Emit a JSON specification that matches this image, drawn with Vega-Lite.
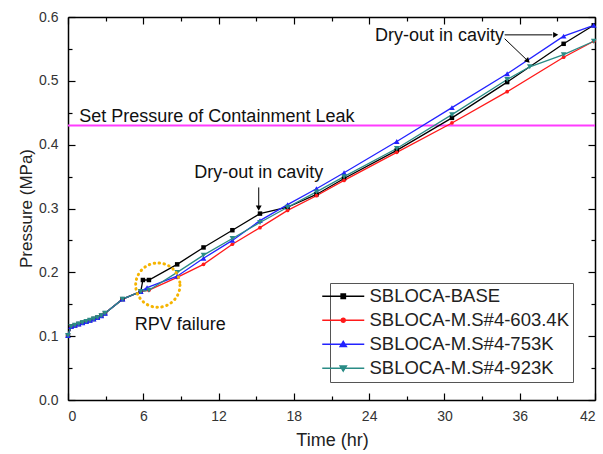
{
  "$schema": "https://vega.github.io/schema/vega-lite/v6.json",
  "width": 527,
  "height": 383,
  "autosize": {"type": "none"},
  "padding": {"left": 68, "top": 17, "right": 8, "bottom": 54},
  "background": "white",
  "config": {
    "view": {"stroke": null},
    "font": "Liberation Sans",
    "axis": {
      "grid": false,
      "domainColor": "black",
      "domainWidth": 1.5,
      "tickColor": "black",
      "tickWidth": 1.2,
      "labelFont": "Liberation Sans",
      "labelFontSize": 14,
      "labelColor": "#333",
      "titleFont": "Liberation Sans",
      "titleFontWeight": "normal",
      "titleColor": "#222"
    },
    "legend": {
      "title": null,
      "orient": "none",
      "legendX": 262,
      "legendY": 266,
      "symbolSize": 100,
      "labelFont": "Liberation Sans",
      "labelFontSize": 18.5,
      "labelColor": "#222",
      "labelLimit": 400,
      "labelOffset": 17,
      "rowPadding": 5,
      "strokeColor": "#555",
      "fillColor": "white",
      "padding": 4
    }
  },
  "datasets": {
    "d": [
      {"s": "SBLOCA-BASE", "t": 0, "p": 0.101},
      {"s": "SBLOCA-BASE", "t": 0.25, "p": 0.115},
      {"s": "SBLOCA-BASE", "t": 0.55, "p": 0.117},
      {"s": "SBLOCA-BASE", "t": 0.85, "p": 0.119},
      {"s": "SBLOCA-BASE", "t": 1.15, "p": 0.121},
      {"s": "SBLOCA-BASE", "t": 1.45, "p": 0.123},
      {"s": "SBLOCA-BASE", "t": 1.75, "p": 0.125},
      {"s": "SBLOCA-BASE", "t": 2.05, "p": 0.127},
      {"s": "SBLOCA-BASE", "t": 2.35, "p": 0.129},
      {"s": "SBLOCA-BASE", "t": 2.65, "p": 0.132},
      {"s": "SBLOCA-BASE", "t": 2.95, "p": 0.136},
      {"s": "SBLOCA-BASE", "t": 4.35, "p": 0.158},
      {"s": "SBLOCA-BASE", "t": 5.8, "p": 0.17},
      {"s": "SBLOCA-BASE", "t": 5.97, "p": 0.188},
      {"s": "SBLOCA-BASE", "t": 6.45, "p": 0.188},
      {"s": "SBLOCA-BASE", "t": 8.7, "p": 0.2125},
      {"s": "SBLOCA-BASE", "t": 10.8, "p": 0.239},
      {"s": "SBLOCA-BASE", "t": 13.1, "p": 0.266},
      {"s": "SBLOCA-BASE", "t": 15.3, "p": 0.292},
      {"s": "SBLOCA-BASE", "t": 17.5, "p": 0.302},
      {"s": "SBLOCA-BASE", "t": 19.8, "p": 0.322},
      {"s": "SBLOCA-BASE", "t": 22, "p": 0.347},
      {"s": "SBLOCA-BASE", "t": 26.2, "p": 0.391},
      {"s": "SBLOCA-BASE", "t": 30.6, "p": 0.442},
      {"s": "SBLOCA-BASE", "t": 35, "p": 0.498},
      {"s": "SBLOCA-BASE", "t": 39.5, "p": 0.558},
      {"s": "SBLOCA-BASE", "t": 41.9, "p": 0.587},

      {"s": "SBLOCA-M.S#4-603.4K", "t": 0, "p": 0.101},
      {"s": "SBLOCA-M.S#4-603.4K", "t": 0.25, "p": 0.115},
      {"s": "SBLOCA-M.S#4-603.4K", "t": 0.55, "p": 0.117},
      {"s": "SBLOCA-M.S#4-603.4K", "t": 0.85, "p": 0.119},
      {"s": "SBLOCA-M.S#4-603.4K", "t": 1.15, "p": 0.121},
      {"s": "SBLOCA-M.S#4-603.4K", "t": 1.45, "p": 0.123},
      {"s": "SBLOCA-M.S#4-603.4K", "t": 1.75, "p": 0.125},
      {"s": "SBLOCA-M.S#4-603.4K", "t": 2.05, "p": 0.127},
      {"s": "SBLOCA-M.S#4-603.4K", "t": 2.35, "p": 0.129},
      {"s": "SBLOCA-M.S#4-603.4K", "t": 2.65, "p": 0.132},
      {"s": "SBLOCA-M.S#4-603.4K", "t": 2.95, "p": 0.136},
      {"s": "SBLOCA-M.S#4-603.4K", "t": 4.35, "p": 0.158},
      {"s": "SBLOCA-M.S#4-603.4K", "t": 5.8, "p": 0.17},
      {"s": "SBLOCA-M.S#4-603.4K", "t": 6.45, "p": 0.172},
      {"s": "SBLOCA-M.S#4-603.4K", "t": 8.7, "p": 0.192},
      {"s": "SBLOCA-M.S#4-603.4K", "t": 10.8, "p": 0.2125},
      {"s": "SBLOCA-M.S#4-603.4K", "t": 13.1, "p": 0.244},
      {"s": "SBLOCA-M.S#4-603.4K", "t": 15.3, "p": 0.27},
      {"s": "SBLOCA-M.S#4-603.4K", "t": 17.5, "p": 0.297},
      {"s": "SBLOCA-M.S#4-603.4K", "t": 19.8, "p": 0.32},
      {"s": "SBLOCA-M.S#4-603.4K", "t": 22, "p": 0.344},
      {"s": "SBLOCA-M.S#4-603.4K", "t": 26.2, "p": 0.388},
      {"s": "SBLOCA-M.S#4-603.4K", "t": 30.6, "p": 0.434},
      {"s": "SBLOCA-M.S#4-603.4K", "t": 35, "p": 0.483},
      {"s": "SBLOCA-M.S#4-603.4K", "t": 39.5, "p": 0.537},
      {"s": "SBLOCA-M.S#4-603.4K", "t": 41.9, "p": 0.562},

      {"s": "SBLOCA-M.S#4-753K", "t": 0, "p": 0.101},
      {"s": "SBLOCA-M.S#4-753K", "t": 0.25, "p": 0.115},
      {"s": "SBLOCA-M.S#4-753K", "t": 0.55, "p": 0.117},
      {"s": "SBLOCA-M.S#4-753K", "t": 0.85, "p": 0.119},
      {"s": "SBLOCA-M.S#4-753K", "t": 1.15, "p": 0.121},
      {"s": "SBLOCA-M.S#4-753K", "t": 1.45, "p": 0.123},
      {"s": "SBLOCA-M.S#4-753K", "t": 1.75, "p": 0.125},
      {"s": "SBLOCA-M.S#4-753K", "t": 2.05, "p": 0.127},
      {"s": "SBLOCA-M.S#4-753K", "t": 2.35, "p": 0.129},
      {"s": "SBLOCA-M.S#4-753K", "t": 2.65, "p": 0.132},
      {"s": "SBLOCA-M.S#4-753K", "t": 2.95, "p": 0.136},
      {"s": "SBLOCA-M.S#4-753K", "t": 4.35, "p": 0.158},
      {"s": "SBLOCA-M.S#4-753K", "t": 5.8, "p": 0.17},
      {"s": "SBLOCA-M.S#4-753K", "t": 6.3, "p": 0.176},
      {"s": "SBLOCA-M.S#4-753K", "t": 8.7, "p": 0.194},
      {"s": "SBLOCA-M.S#4-753K", "t": 10.8, "p": 0.222},
      {"s": "SBLOCA-M.S#4-753K", "t": 13.1, "p": 0.25},
      {"s": "SBLOCA-M.S#4-753K", "t": 15.3, "p": 0.281},
      {"s": "SBLOCA-M.S#4-753K", "t": 17.5, "p": 0.306},
      {"s": "SBLOCA-M.S#4-753K", "t": 19.8, "p": 0.331},
      {"s": "SBLOCA-M.S#4-753K", "t": 22, "p": 0.356},
      {"s": "SBLOCA-M.S#4-753K", "t": 26.2, "p": 0.405},
      {"s": "SBLOCA-M.S#4-753K", "t": 30.6, "p": 0.458},
      {"s": "SBLOCA-M.S#4-753K", "t": 35, "p": 0.511},
      {"s": "SBLOCA-M.S#4-753K", "t": 39.5, "p": 0.57},
      {"s": "SBLOCA-M.S#4-753K", "t": 41.9, "p": 0.587},

      {"s": "SBLOCA-M.S#4-923K", "t": 0, "p": 0.101},
      {"s": "SBLOCA-M.S#4-923K", "t": 0.25, "p": 0.115},
      {"s": "SBLOCA-M.S#4-923K", "t": 0.55, "p": 0.117},
      {"s": "SBLOCA-M.S#4-923K", "t": 0.85, "p": 0.119},
      {"s": "SBLOCA-M.S#4-923K", "t": 1.15, "p": 0.121},
      {"s": "SBLOCA-M.S#4-923K", "t": 1.45, "p": 0.123},
      {"s": "SBLOCA-M.S#4-923K", "t": 1.75, "p": 0.125},
      {"s": "SBLOCA-M.S#4-923K", "t": 2.05, "p": 0.127},
      {"s": "SBLOCA-M.S#4-923K", "t": 2.35, "p": 0.129},
      {"s": "SBLOCA-M.S#4-923K", "t": 2.65, "p": 0.132},
      {"s": "SBLOCA-M.S#4-923K", "t": 2.95, "p": 0.136},
      {"s": "SBLOCA-M.S#4-923K", "t": 4.35, "p": 0.158},
      {"s": "SBLOCA-M.S#4-923K", "t": 5.8, "p": 0.17},
      {"s": "SBLOCA-M.S#4-923K", "t": 6.45, "p": 0.172},
      {"s": "SBLOCA-M.S#4-923K", "t": 8.7, "p": 0.2},
      {"s": "SBLOCA-M.S#4-923K", "t": 10.8, "p": 0.227},
      {"s": "SBLOCA-M.S#4-923K", "t": 13.1, "p": 0.253},
      {"s": "SBLOCA-M.S#4-923K", "t": 15.3, "p": 0.278},
      {"s": "SBLOCA-M.S#4-923K", "t": 17.5, "p": 0.302},
      {"s": "SBLOCA-M.S#4-923K", "t": 19.8, "p": 0.326},
      {"s": "SBLOCA-M.S#4-923K", "t": 22, "p": 0.35},
      {"s": "SBLOCA-M.S#4-923K", "t": 26.2, "p": 0.394},
      {"s": "SBLOCA-M.S#4-923K", "t": 30.6, "p": 0.447},
      {"s": "SBLOCA-M.S#4-923K", "t": 35, "p": 0.502},
      {"s": "SBLOCA-M.S#4-923K", "t": 36.8, "p": 0.522},
      {"s": "SBLOCA-M.S#4-923K", "t": 39.5, "p": 0.541},
      {"s": "SBLOCA-M.S#4-923K", "t": 41.9, "p": 0.562}
    ],
    "labels": [
      {"t": 15.2, "p": 0.355, "label": "Dry-out in cavity"},
      {"t": 29.6, "p": 0.571, "label": "Dry-out in cavity"},
      {"t": 8.95, "p": 0.1175, "label": "RPV failure"}
    ],
    "shafts": [
      {"t": 15.2, "t2": 15.2, "p": 0.333, "p2": 0.304},
      {"t": 34.8, "t2": 38.6, "p": 0.572, "p2": 0.572},
      {"t": 34.8, "t2": 36.5, "p": 0.566, "p2": 0.534}
    ]
  },
  "layer": [
    {
      "data": {"values": [{"p": 0.43}]},
      "mark": {"type": "rule", "color": "#ff3cff", "strokeWidth": 2},
      "encoding": {
        "y": {"field": "p", "type": "quantitative", "axis": null}
      }
    },
    {
      "data": {"name": "d"},
      "mark": {"type": "line", "strokeWidth": 1.3},
      "encoding": {
        "x": {"field": "t", "type": "quantitative", "scale": {"domain": [0, 42], "nice": false, "zero": false},
              "axis": {"orient": "bottom", "values": [0, 6, 12, 18, 24, 30, 36, 42], "tickSize": -7, "labelPadding": 16, "title": "Time (hr)", "titleFontSize": 18, "titleX": 264, "titleY": 40, "titleBaseline": "middle"}},
        "y": {"field": "p", "type": "quantitative", "scale": {"domain": [0, 0.6], "nice": false, "zero": false},
              "axis": {"orient": "left", "values": [0, 0.1, 0.2, 0.3, 0.4, 0.5, 0.6], "format": ".1f", "tickSize": -7, "labelPadding": 17, "title": "Pressure (MPa)", "titleFontSize": 17, "titleX": -42, "titleY": 191, "titleAngle": -90, "titleBaseline": "middle", "titleAlign": "center"}},
        "color": {"field": "s", "type": "nominal",
                  "scale": {"domain": ["SBLOCA-BASE", "SBLOCA-M.S#4-603.4K", "SBLOCA-M.S#4-753K", "SBLOCA-M.S#4-923K"], "range": ["#000000", "#ff1a1a", "#2323ff", "#2a8c86"]},
                  "legend": {
                    "encode": {"symbols": {"update": {
                      "shape": {"signal": "datum.value == 'SBLOCA-BASE' ? 'M-4.2,0H4.2M-0.45,-0.45H0.45V0.45H-0.45Z' : datum.value == 'SBLOCA-M.S#4-603.4K' ? 'M-4.2,0H4.2M-0.4,0A0.4,0.4 0 1,0 0.4,0A0.4,0.4 0 1,0 -0.4,0Z' : datum.value == 'SBLOCA-M.S#4-753K' ? 'M-4.2,0H4.2M0,-0.6L0.65,0.45H-0.65Z' : 'M-4.2,0H4.2M0,0.6L0.65,-0.45H-0.65Z'"},
                      "stroke": {"signal": "scale('color', datum.value)"},
                      "fill": {"signal": "scale('color', datum.value)"},
                      "strokeWidth": {"value": 1.3},
                      "opacity": {"value": 1}
                    }}}
                  }}
      }
    },
    {
      "data": {"name": "d"},
      "transform": [{"filter": "datum.s == 'SBLOCA-BASE'"}],
      "mark": {"type": "point", "shape": "square", "filled": true, "opacity": 1, "size": 20, "color": "#000000"},
      "encoding": {
        "x": {"field": "t", "type": "quantitative",
              "axis": {"orient": "top", "values": [0, 6, 12, 18, 24, 30, 36, 42], "tickSize": -7, "labels": false, "title": null}},
        "y": {"field": "p", "type": "quantitative",
              "axis": {"orient": "right", "values": [0, 0.1, 0.2, 0.3, 0.4, 0.5, 0.6], "tickSize": -7, "labels": false, "title": null}}
      }
    },
    {
      "data": {"name": "d"},
      "transform": [{"filter": "datum.s == 'SBLOCA-M.S#4-603.4K'"}],
      "mark": {"type": "point", "shape": "circle", "filled": true, "opacity": 1, "size": 14, "color": "#ff1a1a"},
      "encoding": {
        "x": {"field": "t", "type": "quantitative", "axis": null},
        "y": {"field": "p", "type": "quantitative", "axis": null}
      }
    },
    {
      "data": {"name": "d"},
      "transform": [{"filter": "datum.s == 'SBLOCA-M.S#4-753K'"}],
      "mark": {"type": "point", "shape": "triangle-up", "filled": true, "opacity": 1, "size": 32, "color": "#2323ff"},
      "encoding": {
        "x": {"field": "t", "type": "quantitative", "axis": null},
        "y": {"field": "p", "type": "quantitative", "axis": null}
      }
    },
    {
      "data": {"name": "d"},
      "transform": [{"filter": "datum.s == 'SBLOCA-M.S#4-923K'"}],
      "mark": {"type": "point", "shape": "triangle-down", "filled": true, "opacity": 1, "size": 32, "color": "#2a8c86"},
      "encoding": {
        "x": {"field": "t", "type": "quantitative", "axis": null},
        "y": {"field": "p", "type": "quantitative", "axis": null}
      }
    },
    {
      "data": {"name": "labels"},
      "mark": {"type": "text", "font": "Liberation Sans", "fontSize": 18, "color": "#111", "align": "center", "baseline": "middle"},
      "encoding": {
        "x": {"field": "t", "type": "quantitative",
              "axis": {"orient": "bottom", "values": [3, 9, 15, 21, 27, 33, 39], "tickSize": -4, "labels": false, "domain": false, "title": null}},
        "y": {"field": "p", "type": "quantitative",
              "axis": {"orient": "left", "values": [0.05, 0.15, 0.25, 0.35, 0.45, 0.55], "tickSize": -4, "labels": false, "domain": false, "title": null}},
        "text": {"field": "label"}
      }
    },
    {
      "data": {"values": [{"t": 0.9, "p": 0.444, "label": "Set Pressure of Containment Leak"}]},
      "mark": {"type": "text", "font": "Liberation Sans", "fontSize": 18, "color": "#111", "align": "left", "baseline": "middle"},
      "encoding": {
        "x": {"field": "t", "type": "quantitative", "axis": null},
        "y": {"field": "p", "type": "quantitative", "axis": null},
        "text": {"field": "label"}
      }
    },
    {
      "data": {"name": "shafts"},
      "mark": {"type": "rule", "color": "black", "strokeWidth": 1},
      "encoding": {
        "x": {"field": "t", "type": "quantitative",
              "axis": {"orient": "top", "values": [3, 9, 15, 21, 27, 33, 39], "tickSize": -4, "labels": false, "domain": false, "title": null}},
        "x2": {"field": "t2"},
        "y": {"field": "p", "type": "quantitative",
              "axis": {"orient": "right", "values": [0.05, 0.15, 0.25, 0.35, 0.45, 0.55], "tickSize": -4, "labels": false, "domain": false, "title": null}},
        "y2": {"field": "p2"}
      }
    },
    {
      "data": {"values": [{"t": 15.2, "p": 0.302}]},
      "mark": {"type": "point", "shape": "triangle", "filled": true, "color": "black", "size": 35, "angle": 180, "opacity": 1},
      "encoding": {
        "x": {"field": "t", "type": "quantitative", "axis": null},
        "y": {"field": "p", "type": "quantitative", "axis": null}
      }
    },
    {
      "data": {"values": [{"t": 38.8, "p": 0.572}]},
      "mark": {"type": "point", "shape": "triangle", "filled": true, "color": "black", "size": 35, "angle": 90, "opacity": 1},
      "encoding": {
        "x": {"field": "t", "type": "quantitative", "axis": null},
        "y": {"field": "p", "type": "quantitative", "axis": null}
      }
    },
    {
      "data": {"values": [{"t": 36.6, "p": 0.532}]},
      "mark": {"type": "point", "shape": "triangle", "filled": true, "color": "black", "size": 35, "angle": 135, "opacity": 1},
      "encoding": {
        "x": {"field": "t", "type": "quantitative", "axis": null},
        "y": {"field": "p", "type": "quantitative", "axis": null}
      }
    },
    {
      "data": {"values": [{"t": 7.16, "p": 0.18}]},
      "mark": {"type": "point", "shape": "circle", "filled": false, "size": 1963, "stroke": "#f5b400", "strokeWidth": 3, "strokeDash": [0.5, 4.5], "strokeCap": "round", "opacity": 1},
      "encoding": {
        "x": {"field": "t", "type": "quantitative", "axis": null},
        "y": {"field": "p", "type": "quantitative", "axis": null}
      }
    }
  ],
  "resolve": {"axis": {"x": "independent", "y": "independent"}}
}
